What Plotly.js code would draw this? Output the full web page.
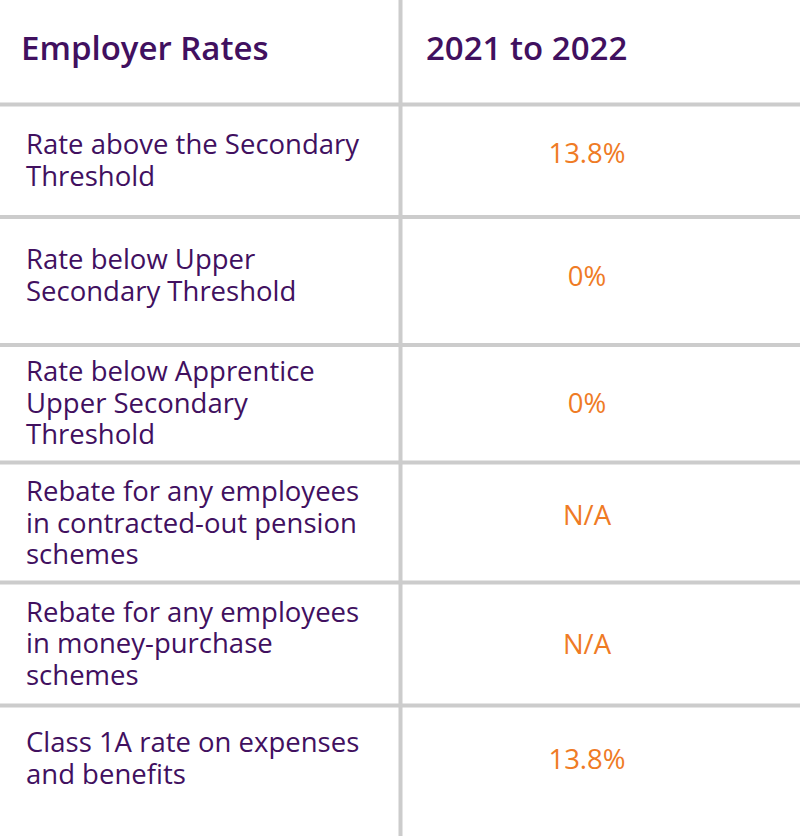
<!DOCTYPE html>
<html>
<head>
<meta charset="utf-8">
<script src="https://cdn.plot.ly/plotly-3.0.1.min.js"></script>
<style>html,body{margin:0;padding:0;background:#fff;}#chart{width:800px;height:838px;}</style>
</head>
<body>
<div id="chart"></div>
<script>
// ---- data ----
var headerLabels = ["Employer Rates", "2021 to 2022"];
var rowLabels = [
  "Rate above the Secondary<br>Threshold",
  "Rate below Upper<br>Secondary Threshold",
  "Rate below Apprentice<br>Upper Secondary<br>Threshold",
  "Rebate for any employees<br>in contracted-out pension<br>schemes",
  "Rebate for any employees<br>in money-purchase<br>schemes",
  "Class 1A rate on expenses<br>and benefits"
];
var rateValues = ["13.8%", "0%", "0%", "N/A", "N/A", "13.8%"];

// ---- layout constants (pixels in axis units) ----
var W = 800, H = 838;
var rowEdges = [0, 104.5, 217, 345, 462.5, 582.5, 705.5, 838];
var headerCenter = 51.7;
var labelCenters = [162.9, 278, 405.9, 525.9, 646.4, 761.2];
var valueCenters = [156, 279, 405.7, 517.8, 647.2, 761.7];
var lineStep = 31.7;
var colSplit = 400.5;
var leftX = 26, headLeftX = 21, headRightX = 426, valueX = 587;
var purple = "#41105f", orange = "#ef7b25", grid = "#cccccc";
var FONT = "Open Sans, Noto Sans, sans-serif";

// split the wrapped labels into individual lines so the line pitch matches
var lx = [], ly = [], lt = [];
rowLabels.forEach(function (lab, i) {
  var parts = lab.split("<br>");
  parts.forEach(function (p, k) {
    lx.push(leftX);
    ly.push(labelCenters[i] + (k - (parts.length - 1) / 2) * lineStep);
    lt.push(p);
  });
});

var traces = [
  { type: "scatter", mode: "text", x: [headLeftX, headRightX], y: [headerCenter, headerCenter], text: headerLabels,
    textposition: "middle right", cliponaxis: false, hoverinfo: "skip",
    textfont: { family: FONT, size: 33, color: purple, weight: 600 } },
  { type: "scatter", mode: "text", x: lx, y: ly, text: lt,
    textposition: "middle right", cliponaxis: false, hoverinfo: "skip",
    textfont: { family: FONT, size: 27.5, color: purple } },
  { type: "scatter", mode: "text", x: rateValues.map(function(){return valueX;}), y: valueCenters, text: rateValues,
    textposition: "middle center", cliponaxis: false, hoverinfo: "skip",
    textfont: { family: FONT, size: 27.5, color: orange } }
];

var shapes = [];
for (var i = 1; i < rowEdges.length - 1; i++) {
  shapes.push({ type: "line", xref: "x", yref: "y", x0: 0, x1: W, y0: rowEdges[i], y1: rowEdges[i],
    line: { color: grid, width: 4 }, layer: "below" });
}
shapes.push({ type: "line", xref: "x", yref: "y", x0: colSplit, x1: colSplit, y0: 0, y1: 836,
  line: { color: grid, width: 4 }, layer: "below" });

var layout = {
  width: W, height: H,
  margin: { l: 0, r: 0, t: 0, b: 0 },
  paper_bgcolor: "#ffffff", plot_bgcolor: "#ffffff",
  showlegend: false,
  xaxis: { range: [0, W], visible: false, fixedrange: true },
  yaxis: { range: [H, 0], visible: false, fixedrange: true },
  shapes: shapes
};

Plotly.newPlot("chart", traces, layout, { staticPlot: true, displayModeBar: false });
</script>
</body>
</html>
